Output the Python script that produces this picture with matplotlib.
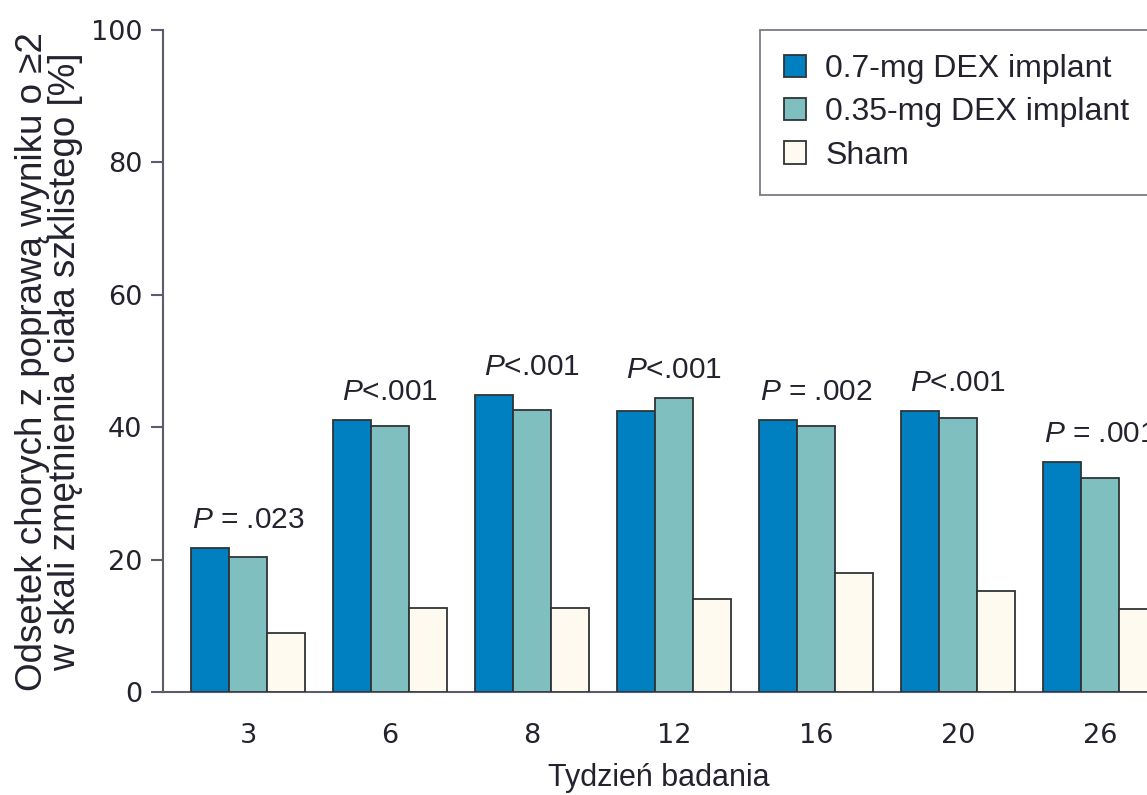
import matplotlib
matplotlib.use("Agg")
import matplotlib.pyplot as plt
import numpy as np
from matplotlib import font_manager

# Data: percentage of patients with >=2-step improvement in vitreous haze
weeks = ["3", "6", "8", "12", "16", "20", "26"]
dex_07 = [21.8, 41.1, 44.9, 42.4, 41.1, 42.4, 34.8]
dex_035 = [20.4, 40.2, 42.6, 44.4, 40.2, 41.4, 32.3]
sham = [8.9, 12.7, 12.7, 14.0, 18.0, 15.3, 12.6]
p_labels = ["P = .023", "P<.001", "P<.001", "P<.001", "P = .002", "P<.001", "P = .001"]
series_names = ["0.7-mg DEX implant", "0.35-mg DEX implant", "Sham"]

names = {f.name for f in font_manager.fontManager.ttflist}
narrow = "Liberation Sans Narrow" if "Liberation Sans Narrow" in names else "Liberation Sans"

plt.rcParams["mathtext.fontset"] = "custom"
plt.rcParams["mathtext.it"] = narrow + ":italic"
plt.rcParams["mathtext.rm"] = narrow

text_col = "#23222e"
axis_col = "#5c5c6c"
edge_col = "#2e3436"
colors = ["#0080c0", "#80bfc0", "#fffaf0"]

W, H = 1147, 795
fig = plt.figure(figsize=(W / 100, H / 100), dpi=100)
left, right, top, bottom = 163, 1185, 30, 692
ax = fig.add_axes([left / W, 1 - bottom / H, (right - left) / W, (bottom - top) / H])

x = np.arange(len(weeks))
bw = 0.268
for i, (vals, c, name) in enumerate(zip([dex_07, dex_035, sham], colors, series_names)):
    ax.bar(x + (i - 1) * bw, vals, width=bw, color=c, edgecolor=edge_col,
           linewidth=1.3, label=name, zorder=3)

for xi, a, b, c, lab in zip(x, dex_07, dex_035, sham, p_labels):
    top_v = max(a, b, c)
    txt = lab.replace("P", r"$\mathit{P}$", 1)
    ax.text(xi, top_v + 2.1, txt, ha="center", va="bottom", fontsize=21.5,
            family=narrow, color=text_col)

ax.set_xlim(-0.6, 6.6)
ax.set_ylim(0, 100)
ax.set_yticks([0, 20, 40, 60, 80, 100])
ax.set_xticks(x)
ax.set_xticklabels(weeks)

for s in ["top", "right"]:
    ax.spines[s].set_visible(False)
for s in ["left", "bottom"]:
    ax.spines[s].set_color(axis_col)
    ax.spines[s].set_linewidth(1.5)

ax.tick_params(axis="y", length=9, width=1.5, color=axis_col, labelsize=19.5,
               labelcolor=text_col, pad=6)
ax.tick_params(axis="x", length=0, labelsize=19.5, labelcolor=text_col, pad=22)
for lab in ax.get_xticklabels() + ax.get_yticklabels():
    lab.set_family("DejaVu Sans")

ax.set_xlabel("Tydzień badania", fontsize=22, family=narrow, color=text_col)
ax.xaxis.set_label_coords((659 - left) / (right - left), -(778 - bottom) / (bottom - top), transform=ax.transAxes)
ax.xaxis.label.set_va("center")

ax.set_ylabel("Odsetek chorych z poprawą wyniku o ≥2\nw skali zmętnienia ciała szklistego [%]",
              fontsize=26.5, family=[narrow, "DejaVu Sans"], color=text_col, linespacing=0.95)
ax.yaxis.set_label_coords(-(163 - 49) / (right - left), (bottom - 362) / (bottom - top))
ax.yaxis.label.set_va("center")

leg = ax.legend(loc="upper left", bbox_to_anchor=(760 / W, 1 - 30 / H),
                bbox_transform=fig.transFigure, prop={"family": narrow, "size": 23},
                frameon=True, fancybox=False, handlelength=0.7, handleheight=0.7,
                handletextpad=0.6, borderpad=0.75, labelspacing=0.42, borderaxespad=0)
leg.get_frame().set_edgecolor("#5a5a66")
leg.get_frame().set_linewidth(1.3)
for t in leg.get_texts():
    t.set_color(text_col)

fig.savefig("out.png", dpi=100)
